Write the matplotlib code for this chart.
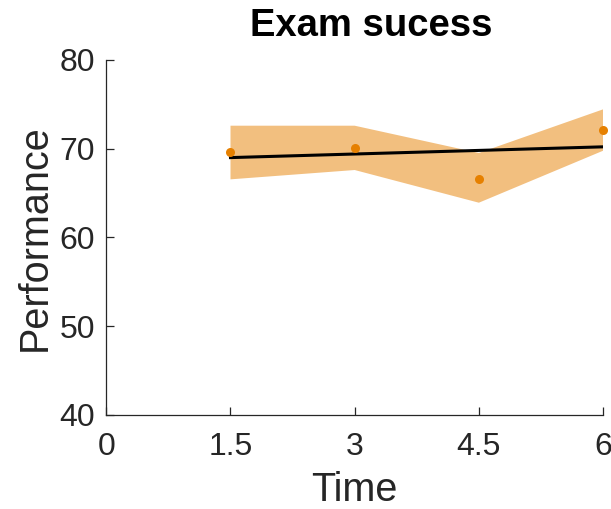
import numpy as np
import matplotlib
matplotlib.use("Agg")
import matplotlib.pyplot as plt

# Data
time = [1.5, 3.0, 4.5, 6.0]
performance = [69.57, 70.09, 66.60, 72.08]
band_upper = [72.57, 72.57, 69.50, 74.41]
band_lower = [66.53, 67.58, 63.90, 69.75]
x_ticks = [0, 1.5, 3, 4.5, 6]
x_tick_labels = ["0", "1.5", "3", "4.5", "6"]
y_ticks = [40, 50, 60, 70, 80]

plt.rcParams['font.family'] = ['Liberation Sans', 'DejaVu Sans']
axcol = '#262626'
orange = '#E68000'

fig = plt.figure(figsize=(6.11, 5.09), dpi=100)
ax = fig.add_axes([0.174, 0.1847, 0.813, 0.698])

ax.fill_between(time, band_lower, band_upper, facecolor=orange, alpha=0.5, linewidth=0)
coef = np.polyfit(time, performance, 1)
fit = np.polyval(coef, time)
ax.plot(time, fit, color='black', linewidth=2.2, zorder=3)
ax.plot(time, performance, 'o', color=orange, markersize=6.5, markeredgewidth=0, zorder=4, clip_on=False)

ax.set_xlim(0, 6)
ax.set_ylim(40, 80)
ax.set_xticks(x_ticks)
ax.set_xticklabels(x_tick_labels)
ax.set_yticks(y_ticks)
for s in ['top', 'right']:
    ax.spines[s].set_visible(False)
for s in ['left', 'bottom']:
    ax.spines[s].set_color(axcol)
    ax.spines[s].set_linewidth(0.9)
ax.tick_params(direction='in', length=6, width=0.9, colors=axcol, labelsize=23, pad=8)
ax.tick_params(axis='x', pad=12)
ax.set_xlabel('Time', fontsize=28.5, color=axcol, labelpad=7)
ax.set_ylabel('Performance', fontsize=28.5, color=axcol, labelpad=4)
ax.set_title('Exam sucess', fontsize=27.5, fontweight='bold', color='black', pad=17, x=0.533)

fig.savefig('out.png', dpi=100)
